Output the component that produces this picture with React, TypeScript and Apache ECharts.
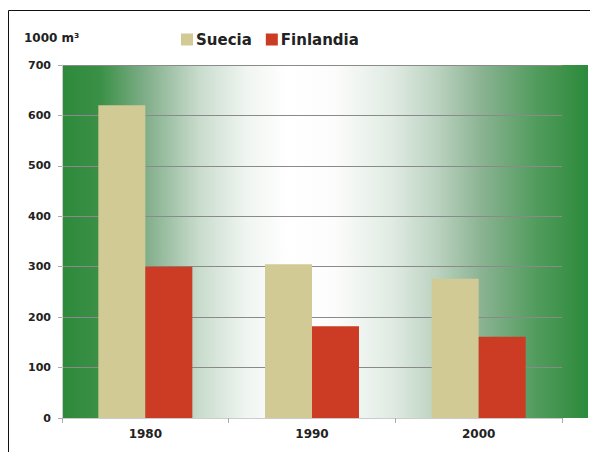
import React, { useEffect, useRef } from "react";
import * as echarts from "echarts";

const categories = ["1980", "1990", "2000"];
const suecia = [620, 305, 276];
const finlandia = [300, 182, 161];
const seriesNames = ["Suecia", "Finlandia"];
const unitLabel = "1000 m³";

export default function App() {
  const ref = useRef<HTMLDivElement>(null);
  useEffect(() => {
    if (!ref.current) return;
    const chart = echarts.init(ref.current, undefined, { renderer: "svg" });
    const font = "DejaVu Sans";
    chart.setOption({
      animation: false,
      backgroundColor: "#ffffff",
      title: {
        text: unitLabel,
        left: 19,
        top: 27,
        textStyle: { fontFamily: font, fontWeight: "bold", fontSize: 12, color: "#222" },
      },
      legend: {
        data: seriesNames,
        left: 176,
        top: 27,
        icon: "rect",
        itemWidth: 12,
        itemHeight: 12,
        itemGap: 14,
        textStyle: { fontFamily: font, fontWeight: "bold", fontSize: 15, color: "#222", padding: [0, 0, 0, -2] },
      },
      graphic: [
        {
          type: "rect",
          z: -10,
          shape: { x: 8.5, y: 10.5, width: 640, height: 520 },
          style: { fill: "none", stroke: "#111", lineWidth: 1 },
        },
        {
          type: "rect",
          z: -5,
          shape: { x: 63, y: 65, width: 525, height: 353 },
          style: {
            fill: new echarts.graphic.LinearGradient(0, 0, 1, 0, [
              { offset: 0, color: "#2e8a3b" },
              { offset: 0.07, color: "#3a9046" },
              { offset: 0.16, color: "#82af8b" },
              { offset: 0.26, color: "#c9dccd" },
              { offset: 0.35, color: "#f0f5f1" },
              { offset: 0.43, color: "#ffffff" },
              { offset: 0.52, color: "#fbfcfb" },
              { offset: 0.63, color: "#dfeae2" },
              { offset: 0.71, color: "#bcd3c1" },
              { offset: 0.8, color: "#89b291" },
              { offset: 0.9, color: "#529c5e" },
              { offset: 1, color: "#2c8a3a" },
            ]),
          },
        },
      ],
      grid: { left: 62, right: 28, top: 65, bottom: 34 },
      xAxis: {
        type: "category",
        data: categories,
        axisLine: { show: true, lineStyle: { color: "#cccccc" } },
        axisTick: { show: true, length: 5, lineStyle: { color: "#aaaaaa" } },
        axisLabel: { fontFamily: font, fontWeight: "bold", fontSize: 12, color: "#222", margin: 10 },
      },
      yAxis: {
        type: "value",
        min: 0,
        max: 700,
        interval: 100,
        axisLine: { show: true, lineStyle: { color: "#cccccc" } },
        axisTick: { show: true, length: 4, lineStyle: { color: "#aaaaaa" } },
        axisLabel: { fontFamily: font, fontWeight: "bold", fontSize: 11, color: "#222", margin: 11 },
        splitLine: { show: true, lineStyle: { color: "#8a8a8a", width: 1 } },
      },
      series: [
        {
          name: seriesNames[0],
          type: "bar",
          data: suecia,
          barWidth: 47,
          barGap: "0%",
          itemStyle: { color: "#d1ca94" },
        },
        {
          name: seriesNames[1],
          type: "bar",
          data: finlandia,
          barWidth: 47,
          itemStyle: { color: "#cc3b24" },
        },
      ],
    });
    return () => chart.dispose();
  }, []);
  return (
    <div
      ref={ref}
      style={{ position: "fixed", left: 0, top: 0, width: 590, height: 452 }}
    />
  );
}
